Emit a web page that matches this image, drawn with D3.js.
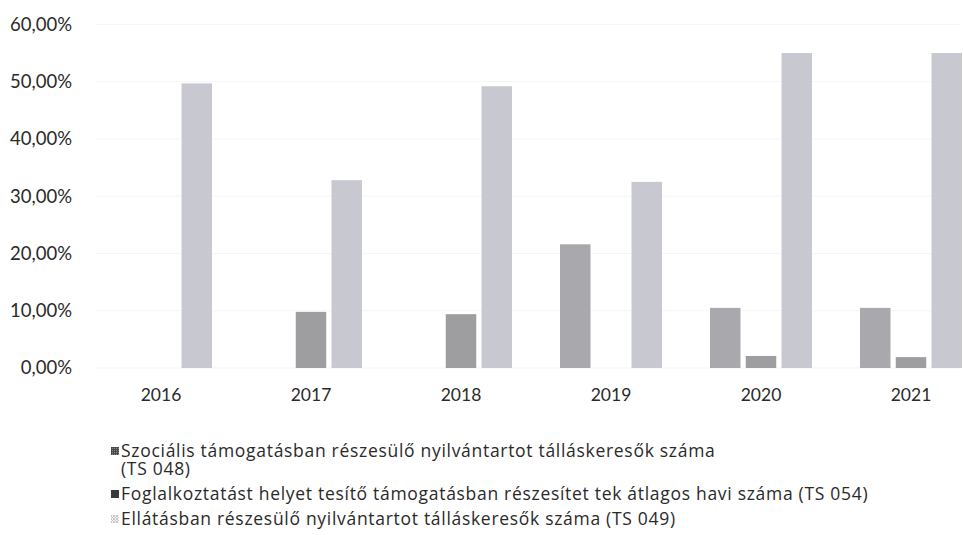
<!DOCTYPE html>
<html>
<head>
<meta charset="utf-8">
<script src="https://cdn.jsdelivr.net/npm/d3@7"></script>
<style>
  html, body { margin: 0; padding: 0; background: #fff; }
  svg { display: block; font-family: Lato, "Open Sans", sans-serif; }
</style>
</head>
<body>
<svg id="chart" width="963" height="535"></svg>
<script>
// ---- data ----
const categories = ["2016", "2017", "2018", "2019", "2020", "2021"];
const seriesNames = [
  ["Szociális támogatásban részesülő nyilvántartot tálláskeresők száma", "(TS 048)"],
  ["Foglalkoztatást helyet tesítő támogatásban részesítet tek átlagos havi száma (TS 054)"],
  ["Ellátásban részesülő nyilvántartot tálláskeresők száma (TS 049)"]
];
const ts048 = [null, null, null, 0.216, 0.105, 0.105];
const ts054 = [null, 0.098, 0.094, null, 0.021, 0.019];
const ts049 = [0.497, 0.328, 0.492, 0.325, 0.550, 0.550];
const yTicks = [0, 0.1, 0.2, 0.3, 0.4, 0.5, 0.6];
const seriesValues = [ts048, ts054, ts049];
const seriesColors = ["#a9a9ad", "#9e9ea1", "#c8c8d1"];

// ---- layout ----
const svg = d3.select("#chart");
const x = d3.scaleBand().domain(categories).range([86, 986]).padding(0);
const xs = d3.scaleBand().domain([0, 1, 2]).range([-51, 51]).paddingInner(0.147);
const y = d3.scaleLinear().domain([0, 0.6]).range([368, 24.4]);

const fmt = v => d3.format(".2f")(v * 100).replace(".", ",") + "%";

// patterns for legend markers
const defs = svg.append("defs");
const p1 = defs.append("pattern").attr("id", "pat1").attr("width", 2).attr("height", 2)
  .attr("patternUnits", "userSpaceOnUse");
p1.append("rect").attr("width", 2).attr("height", 2).attr("fill", "#4a4a4a");
p1.append("rect").attr("width", 1).attr("height", 1).attr("fill", "#8a8a8a");
const p3 = defs.append("pattern").attr("id", "pat3").attr("width", 3).attr("height", 3)
  .attr("patternUnits", "userSpaceOnUse");
p3.append("rect").attr("width", 3).attr("height", 3).attr("fill", "#f4f4f4");
p3.append("path").attr("d", "M0,0L3,3M3,0L0,3").attr("stroke", "#bdbdbd").attr("stroke-width", 0.8);

// faint gridlines
svg.append("g").selectAll("line").data(yTicks).join("line")
  .attr("x1", 95).attr("x2", 960)
  .attr("y1", d => y(d)).attr("y2", d => y(d))
  .attr("stroke", "#f5f5f5").attr("stroke-width", 1);

// y axis labels
const yAxis = d3.axisLeft(y).tickValues(yTicks).tickFormat(fmt).tickSize(0).tickPadding(0);
const gy = svg.append("g").attr("transform", "translate(72,0)").call(yAxis);
gy.select(".domain").remove();
gy.selectAll("text").attr("font-family", "Lato, sans-serif").attr("font-size", 18.5).attr("fill", "#2a2a2a");

// x axis labels
const xAxis = d3.axisBottom(x).tickSize(0).tickPadding(0);
const gx = svg.append("g").attr("transform", "translate(0,389)").call(xAxis);
gx.select(".domain").remove();
gx.selectAll("text").attr("font-family", "Lato, sans-serif").attr("font-size", 17.5).attr("fill", "#2a2a2a");

// bars
seriesValues.forEach((vals, si) => {
  svg.append("g").selectAll("rect")
    .data(categories.map((c, i) => ({ c, v: vals[i] })).filter(d => d.v != null))
    .join("rect")
    .attr("x", d => x(d.c) + x.bandwidth() / 2 + xs(si))
    .attr("width", xs.bandwidth())
    .attr("y", d => y(d.v))
    .attr("height", d => y(0) - y(d.v))
    .attr("fill", seriesColors[si]);
});

// legend
const legendY = [451, 494, 519];
const markerFill = ["url(#pat1)", "#3a3a3a", "url(#pat3)"];
const lg = svg.append("g");
seriesNames.forEach((lines, i) => {
  lg.append("rect").attr("x", 111).attr("y", legendY[i] - 4).attr("width", 8).attr("height", 8)
    .attr("fill", markerFill[i]);
  lines.forEach((t, j) => {
    lg.append("text").attr("x", 121).attr("y", legendY[i] + j * 18)
      .attr("dy", "0.35em")
      .attr("font-family", "'Open Sans', sans-serif").attr("font-size", 17.5)
      .attr("letter-spacing", 0.7).attr("fill", "#2a2a2a")
      .text(t);
  });
});
</script>
</body>
</html>
